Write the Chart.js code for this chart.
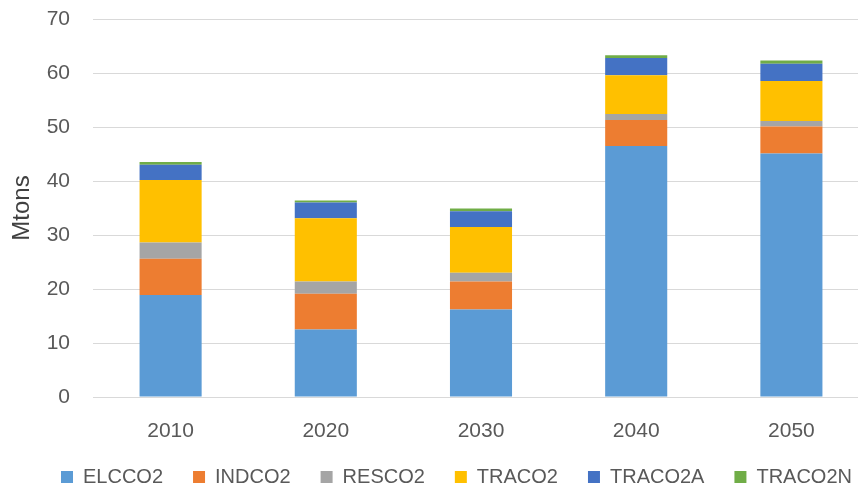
<!DOCTYPE html>
<html>
<head>
<meta charset="utf-8">
<script src="https://cdn.jsdelivr.net/npm/chart.js@4"></script>
<style>
  html, body { margin: 0; padding: 0; background: #fff; overflow: hidden; }
  #wrap { width: 870px; height: 488px; }
</style>
</head>
<body>
<div id="wrap"><canvas id="chart"></canvas></div>
<script>
const years = ['2010', '2020', '2030', '2040', '2050'];

const elcco2 = [18.9, 12.5, 16.2, 46.5, 45.1];
const indco2 = [6.7, 6.6, 5.2, 4.8, 5.0];
const resco2 = [3.0, 2.3, 1.6, 1.1, 1.0];
const traco2 = [11.6, 11.7, 8.5, 7.2, 7.4];
const traco2a = [2.8, 2.9, 2.9, 3.2, 3.2];
const traco2n = [0.5, 0.4, 0.5, 0.5, 0.6];

const seriesNames = ['ELCCO2', 'INDCO2', 'RESCO2', 'TRACO2', 'TRACO2A', 'TRACO2N'];
const seriesData = [elcco2, indco2, resco2, traco2, traco2a, traco2n];
const colors = ['#5b9bd5', '#ed7d31', '#a5a5a5', '#ffc000', '#4472c4', '#70ad47'];

const fontFamily = "'Liberation Sans', Arial, sans-serif";
const textColor = '#595959';

const datasets = seriesNames.map((name, i) => ({
    label: name,
    data: seriesData[i],
    backgroundColor: colors[i],
    borderWidth: 0,
    categoryPercentage: 1,
    barPercentage: 0.4
}));

// fixed legend height, and nudge legend to the right like the original
const legendTweak = {
    id: 'legendTweak',
    beforeInit(chart) {
        const origFit = chart.legend.fit;
        chart.legend.fit = function () {
            origFit.call(this);
            this.height = 51;
        };
    },
    afterLayout(chart) {
        chart.legend.left += 18;
        chart.legend.right += 18;
    }
};

const ctx = document.getElementById('chart').getContext('2d');
new Chart(ctx, {
    type: 'bar',
    data: { labels: years, datasets: datasets },
    plugins: [legendTweak],
    options: {
        responsive: true,
        maintainAspectRatio: false,
        animation: false,
        layout: { padding: { top: 19, left: 8, right: 1, bottom: 0 } },
        plugins: {
            legend: {
                position: 'bottom',
                labels: {
                    boxWidth: 12,
                    boxHeight: 12,
                    padding: 30,
                    color: textColor,
                    font: { family: fontFamily, size: 20 }
                }
            },
            tooltip: { enabled: false }
        },
        scales: {
            x: {
                stacked: true,
                grid: { display: false, drawTicks: false },
                border: { display: false },
                ticks: {
                    color: textColor,
                    padding: 22,
                    font: { family: fontFamily, size: 21 }
                },
                afterFit(scale) { scale.height = 40; }
            },
            y: {
                stacked: true,
                min: 0,
                max: 70,
                ticks: {
                    stepSize: 10,
                    color: textColor,
                    padding: 23,
                    font: { family: fontFamily, size: 21 }
                },
                grid: { color: '#d9d9d9', drawTicks: false },
                border: { display: false },
                title: {
                    display: true,
                    text: 'Mtons',
                    color: '#404040',
                    padding: 0,
                    font: { family: fontFamily, size: 24 }
                },
                afterFit(scale) {
                    scale.width = 85;
                    scale.paddingTop = 0;
                    scale.paddingBottom = 0;
                }
            }
        }
    }
});
</script>
</body>
</html>
